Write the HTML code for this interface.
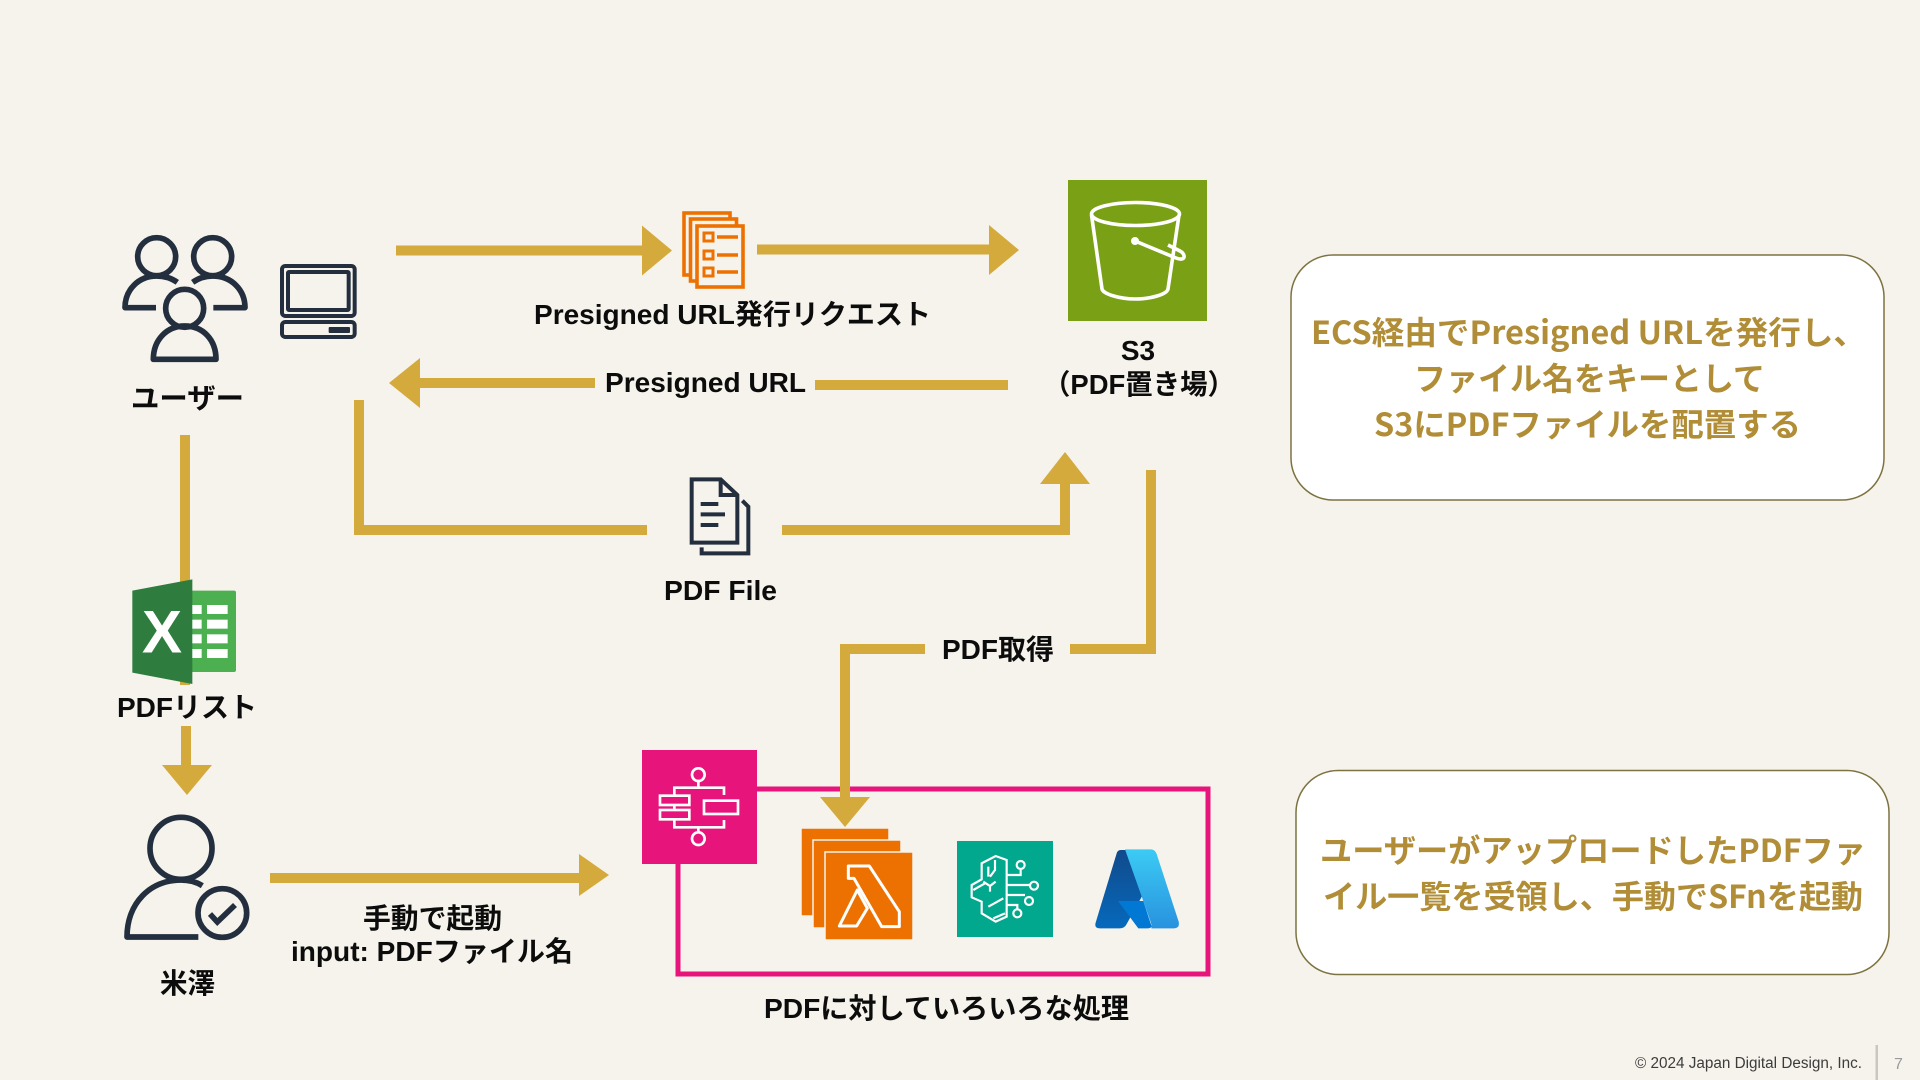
<!DOCTYPE html>
<html lang="ja"><head><meta charset="utf-8"><title>PDF flow</title>
<style>
html,body{margin:0;padding:0;width:1920px;height:1080px;overflow:hidden;background:#f6f3ec}
svg{display:block}
text{font-family:"Liberation Sans","Noto Sans CJK JP",sans-serif;font-weight:700;fill:#0c0c0c;font-size:28px}
.b text{font-family:"Noto Sans CJK JP","Liberation Sans",sans-serif;fill:#b08d36;font-size:32px;font-weight:700}
</style></head><body>
<svg width="1920" height="1080" viewBox="0 0 1920 1080" xmlns="http://www.w3.org/2000/svg">
<defs>
<linearGradient id="az1" x1="0" y1="0" x2="0" y2="1"><stop offset="0" stop-color="#114a8b"/><stop offset="1" stop-color="#0669bc"/></linearGradient>
<linearGradient id="az2" x1="0" y1="0" x2="0" y2="1"><stop offset="0" stop-color="#3ccbf4"/><stop offset="1" stop-color="#2892df"/></linearGradient>
</defs>
<rect width="1920" height="1080" fill="#f6f3ec"/>

<!-- pink frame -->
<rect x="678" y="789" width="530" height="185" fill="none" stroke="#e7157b" stroke-width="5"/>

<!-- arrows -->
<g fill="#d4aa3c" stroke="none">
<rect x="396" y="245.500" width="248" height="10"/><polygon points="642,225.500 672,250.500 642,275.500"/>
<rect x="757" y="244.500" width="234" height="10"/><polygon points="989,225 1019,250 989,275"/>
<rect x="815" y="380" width="193" height="10"/>
<rect x="418" y="378" width="177" height="10"/><polygon points="420,358 389,383 420,408"/>
<polygon points="1040,484 1090,484 1065,452"/>
<rect x="180" y="435" width="10" height="250"/>
<rect x="181" y="726" width="10" height="42"/><polygon points="162,765 212,765 187,795"/>
<rect x="270" y="873" width="311" height="10"/><polygon points="579,854 609,875 579,896"/>
<polygon points="820,797 870,797 845,827"/>
</g>
<g fill="none" stroke="#d4aa3c" stroke-width="10">
<path d="M647 530H359V400"/>
<path d="M782 530H1065V484"/>
<path d="M1151 470V649H1070"/>
<path d="M925 649H845V800"/>
</g>

<!-- users -->
<g transform="translate(100,200) scale(.33333)" fill="none" stroke="#232f3e" stroke-width="17">
<circle cx="170" cy="170" r="57"/><circle cx="338" cy="170" r="57"/><circle cx="254" cy="325" r="57"/>
<path d="M168 323H75C75 270 115 228 170 228Q205 228 232 247" stroke-linejoin="round"/>
<path d="M340 323H435C435 270 395 228 338 228Q305 228 278 247" stroke-linejoin="round"/>
<path d="M160 478C160 420 200 378 254 378C310 378 348 420 348 478Z" stroke-linejoin="round"/>
<rect x="546" y="198" width="218" height="150" rx="10" stroke-width="12"/>
<rect x="564" y="216" width="182" height="114" rx="3" stroke-width="12"/>
<rect x="546" y="366" width="218" height="45" rx="10" stroke-width="12"/>
<rect x="686" y="381" width="64" height="18" rx="3" fill="#232f3e" stroke="none"/>
</g>

<!-- orange doc stack -->
<g fill="#f6f3ec" stroke="#ed7100" stroke-width="3.600">
<rect x="684" y="213" width="46" height="62"/>
<rect x="690.500" y="219" width="46" height="62"/>
<rect x="697" y="226" width="46" height="61"/>
<rect x="704" y="233" width="9" height="8" stroke-width="3"/>
<rect x="704" y="251" width="9" height="8" stroke-width="3"/>
<rect x="704" y="268" width="9" height="8" stroke-width="3"/>
<path d="M717 237H738M717 255H738M717 272H738" fill="none"/>
</g>

<!-- S3 -->
<rect x="1068" y="180" width="139" height="141" fill="#7aa116"/>
<g fill="none" stroke="#fff" stroke-width="3.600">
<ellipse cx="1135.500" cy="214" rx="44" ry="11.500"/>
<path d="M1091.500 215L1102 289C1103 294 1120 299 1135 299C1152 299 1167 294 1168 289L1179 215"/>
<path d="M1135 241L1176 258C1186 262 1186 254 1180 251C1174 248 1172 247 1168 245"/>
</g>
<circle cx="1135" cy="241" r="4" fill="#fff"/>

<!-- gray doc -->
<g transform="translate(660,460) scale(.33333)" fill="none" stroke="#232f3e" stroke-width="12">
<path d="M182 58H95V248H232V105Z"/><path d="M182 58V105H232"/>
<path d="M122 132H175M122 163H195M122 195H175"/>
<path d="M247 122L265 140V280H125V262"/>
</g>

<!-- excel -->
<g transform="translate(100,560) scale(.33333)">
<path d="M270 92H402Q408 92 408 98V330Q408 336 402 336H270Z" fill="#4caf50"/>
<polygon points="97,92 277,58 277,372 97,338" fill="#2e7d3e"/>
<g fill="#fff">
<rect x="277" y="135" width="28" height="27"/><rect x="321" y="135" width="62" height="27"/>
<rect x="277" y="179" width="28" height="27"/><rect x="321" y="179" width="62" height="27"/>
<rect x="277" y="223" width="28" height="27"/><rect x="321" y="223" width="62" height="27"/>
<rect x="277" y="267" width="28" height="27"/><rect x="321" y="267" width="62" height="27"/>
</g>
</g>
<text x="162" y="652.500" text-anchor="middle" style="fill:#fff;font-size:60px">X</text>

<!-- person check -->
<g transform="translate(110,790) scale(.33333)" fill="none" stroke="#232f3e" stroke-width="17">
<circle cx="213" cy="175" r="93"/>
<path d="M265 441H51C51 340 120 270 213 270Q250 270 277 287" stroke-linejoin="round"/>
<circle cx="337" cy="369" r="73"/>
<path d="M300 372L322 396L375 345"/>
</g>

<!-- step functions -->
<rect x="642" y="750" width="115" height="114" fill="#e7157b"/>
<g transform="translate(630,740) scale(.33333)" fill="none" stroke="#fff" stroke-width="8">
<circle cx="205" cy="104" r="19"/><circle cx="205" cy="296" r="19"/>
<path d="M205 123V143M205 262V277M133 165V143H282V165M133 238V262H282V240M133 195V210"/>
<rect x="90" y="167" width="88" height="28"/><rect x="90" y="210" width="88" height="28"/>
<rect x="222" y="182" width="102" height="40"/>
</g>

<!-- lambda -->
<g stroke="#f6f3ec" stroke-width="1.500" fill="#ed7100">
<rect x="801" y="828" width="88" height="88"/>
<rect x="813" y="840" width="88" height="88"/>
<rect x="825" y="852" width="88" height="88"/>
</g>
<g transform="translate(630,740) scale(.33333)" fill="none" stroke="#fff" stroke-width="9" stroke-linejoin="round">
<path d="M655 378H718L808 515V560H755L672 415H655Z"/>
<path d="M682 450L712 505L680 558H628Z"/>
</g>

<!-- bedrock -->
<rect x="957" y="841" width="96" height="96" fill="#01a88d"/>
<g transform="translate(930,820) scale(.33333)" fill="none" stroke="#fff" stroke-width="6.500">
<path d="M230 120L197 108L155 130V178L125 195V232L155 245V280L197 305L230 290Z"/>
<path d="M195 120V150L180 170M175 140V170M130 210L165 190M160 185L180 198L197 185M180 198V215M175 260L220 235M190 295L225 280"/>
<path d="M230 195H298M232 165H272V150M232 225H285M230 255H262V268"/>
<circle cx="272" cy="135" r="12"/><circle cx="312" cy="197" r="12"/><circle cx="297" cy="243" r="12"/><circle cx="262" cy="280" r="12"/>
</g>

<!-- azure -->
<g transform="translate(930,820) scale(.33333)">
<path d="M572 90H596L652 200L590 312Q584 325 568 325H510Q492 325 497 308L560 100Q563 90 572 90Z" fill="url(#az1)"/>
<path d="M564 243H640L665 320Q662 325 652 325L625 325Z" fill="#0078d4"/>
<path d="M585 88H662Q675 88 680 102L746 305Q750 325 732 325H664Q666 316 662 306Z" fill="url(#az2)"/>
</g>

<!-- labels -->
<text x="131" y="408" textLength="113" lengthAdjust="spacingAndGlyphs">ユーザー</text>
<text x="534" y="324" textLength="397" lengthAdjust="spacingAndGlyphs">Presigned URL発行リクエスト</text>
<text x="605" y="392" textLength="201" lengthAdjust="spacingAndGlyphs">Presigned URL</text>
<text x="1138" y="360" text-anchor="middle">S3</text>
<text x="1043" y="394" textLength="192" lengthAdjust="spacingAndGlyphs">（PDF置き場）</text>
<text x="664" y="600" textLength="113" lengthAdjust="spacingAndGlyphs">PDF File</text>
<text x="117" y="717" textLength="140" lengthAdjust="spacingAndGlyphs">PDFリスト</text>
<text x="942" y="659" textLength="112" lengthAdjust="spacingAndGlyphs">PDF取得</text>
<text x="363" y="928" textLength="139" lengthAdjust="spacingAndGlyphs">手動で起動</text>
<text x="291" y="961" textLength="282" lengthAdjust="spacingAndGlyphs">input: PDFファイル名</text>
<text x="160" y="993" textLength="55" lengthAdjust="spacingAndGlyphs">米澤</text>
<text x="764" y="1018" textLength="365" lengthAdjust="spacingAndGlyphs">PDFに対していろいろな処理</text>

<!-- boxes -->
<rect x="1291" y="255" width="593" height="245" rx="42" fill="#fff" stroke="#7d7340" stroke-width="1.500"/>
<rect x="1296" y="770.500" width="593" height="204" rx="42" fill="#fff" stroke="#7d7340" stroke-width="1.500"/>
<g class="b">
<text x="1311" y="344" textLength="555" lengthAdjust="spacingAndGlyphs">ECS経由でPresigned URLを発行し、</text>
<text x="1414" y="390" textLength="351" lengthAdjust="spacingAndGlyphs">ファイル名をキーとして</text>
<text x="1374" y="436" textLength="427" lengthAdjust="spacingAndGlyphs">S3にPDFファイルを配置する</text>
<text x="1320" y="862" textLength="546" lengthAdjust="spacingAndGlyphs">ユーザーがアップロードしたPDFファ</text>
<text x="1323" y="908" textLength="540" lengthAdjust="spacingAndGlyphs">イル一覧を受領し、手動でSFnを起動</text>
</g>

<!-- footer -->
<text x="1635" y="1068" textLength="227" lengthAdjust="spacingAndGlyphs" style="font-weight:400;font-size:15.500px;fill:#3c3c3c">© 2024 Japan Digital Design, Inc.</text>
<rect x="1875.500" y="1045" width="2.500" height="35" fill="#c9c7c2"/>
<text x="1894" y="1069" style="font-weight:400;font-size:16px;fill:#9a9a9a">7</text>
</svg>
</body></html>
